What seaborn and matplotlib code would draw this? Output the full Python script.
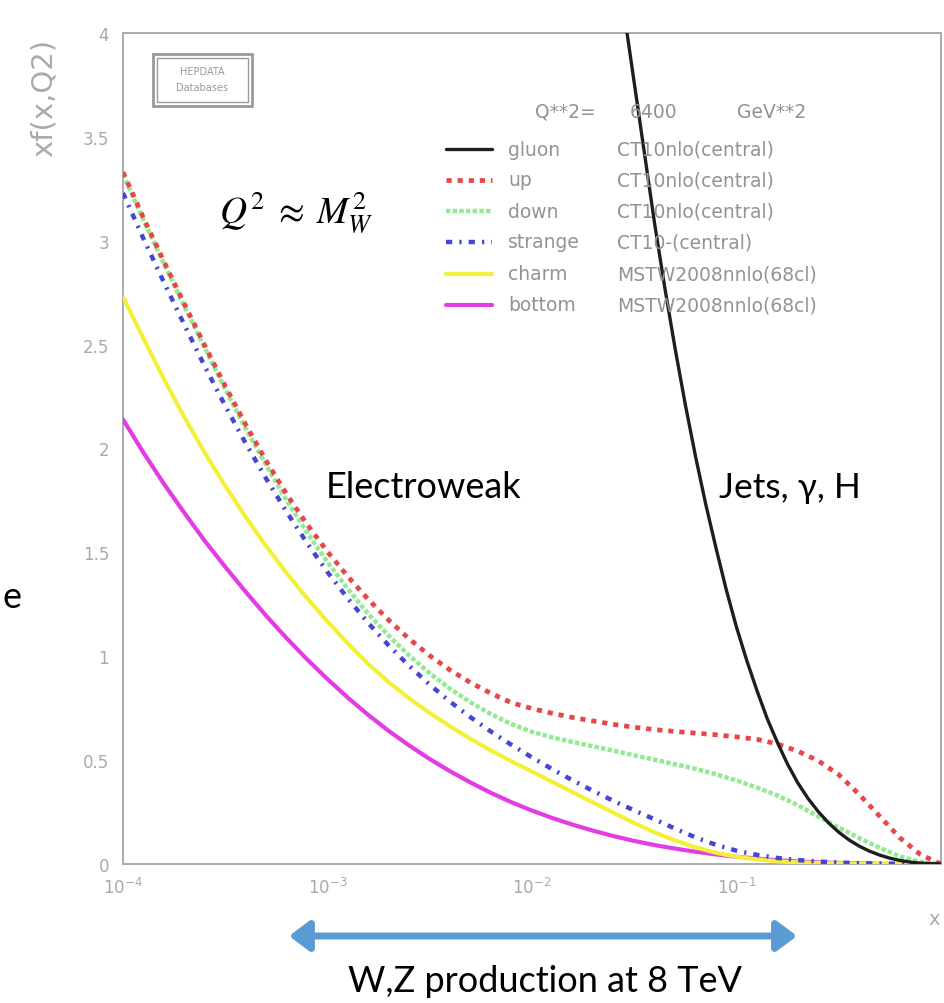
import numpy as np
import pandas as pd
import matplotlib
matplotlib.use("Agg")
import matplotlib.pyplot as plt
import seaborn as sns
from matplotlib.patches import Rectangle, FancyArrowPatch
from matplotlib.lines import Line2D
from matplotlib.ticker import MultipleLocator, LogLocator, FuncFormatter, NullFormatter

# ---- parton distributions x*f(x, Q^2) at Q^2 = 6400 GeV^2 ----
# sampled every 0.1 in log10(x), from x = 1e-4 to x = 1
log10_x = [-4.0, -3.9, -3.8, -3.7, -3.6, -3.5, -3.4, -3.3, -3.2, -3.1,
           -3.0, -2.9, -2.8, -2.7, -2.6, -2.5, -2.4, -2.3, -2.2, -2.1,
           -2.0, -1.9, -1.8, -1.7, -1.6, -1.5, -1.4, -1.3, -1.2, -1.1,
           -1.0, -0.9, -0.8, -0.7, -0.6, -0.5, -0.4, -0.3, -0.2, -0.1, 0.0]
up = [3.33, 3.11, 2.90, 2.695, 2.495, 2.30, 2.115, 1.94, 1.78, 1.635,
      1.503, 1.383, 1.273, 1.173, 1.083, 1.003, 0.933, 0.873, 0.821, 0.776,
      0.748, 0.725, 0.705, 0.688, 0.672, 0.658, 0.647, 0.638, 0.630, 0.622,
      0.612, 0.600, 0.578, 0.543, 0.497, 0.43, 0.335, 0.23, 0.125, 0.045, 0.0]
down = [3.32, 3.10, 2.89, 2.685, 2.485, 2.285, 2.095, 1.92, 1.75, 1.595,
        1.453, 1.323, 1.203, 1.098, 1.003, 0.918, 0.843, 0.778, 0.721, 0.673,
        0.636, 0.609, 0.587, 0.566, 0.545, 0.523, 0.502, 0.48, 0.458, 0.432,
        0.402, 0.368, 0.33, 0.283, 0.228, 0.175, 0.125, 0.078, 0.036, 0.01, 0.0]
strange = [3.23, 3.01, 2.80, 2.595, 2.395, 2.205, 2.025, 1.855, 1.695, 1.545,
           1.405, 1.277, 1.159, 1.051, 0.953, 0.863, 0.781, 0.706, 0.637, 0.573,
           0.513, 0.456, 0.402, 0.351, 0.303, 0.258, 0.215, 0.17, 0.128, 0.092,
           0.064, 0.044, 0.029, 0.019, 0.012, 0.007, 0.004, 0.002, 0.001, 0.0, 0.0]
charm = [2.73, 2.53, 2.335, 2.15, 1.98, 1.82, 1.67, 1.53, 1.40, 1.28,
         1.167, 1.061, 0.962, 0.875, 0.797, 0.727, 0.662, 0.602, 0.546, 0.494,
         0.445, 0.395, 0.345, 0.295, 0.246, 0.197, 0.152, 0.113, 0.08, 0.054,
         0.035, 0.022, 0.013, 0.008, 0.005, 0.003, 0.0015, 0.0005, 0.0, 0.0, 0.0]
bottom = [2.14, 1.98, 1.83, 1.69, 1.555, 1.43, 1.31, 1.195, 1.087, 0.985,
          0.89, 0.80, 0.717, 0.64, 0.57, 0.505, 0.446, 0.392, 0.342, 0.297,
          0.257, 0.221, 0.189, 0.16, 0.134, 0.111, 0.091, 0.074, 0.059, 0.046,
          0.035, 0.026, 0.018, 0.012, 0.008, 0.005, 0.003, 0.001, 0.0, 0.0, 0.0]

# gluon, sampled every 0.05 in log10(x) where it is on scale
gluon_log10_x = [-1.60, -1.55, -1.50, -1.45, -1.40, -1.35, -1.30, -1.25, -1.20,
                 -1.15, -1.10, -1.05, -1.00, -0.95, -0.90, -0.85, -0.80, -0.75,
                 -0.70, -0.65, -0.60, -0.55, -0.50, -0.45, -0.40, -0.35, -0.30,
                 -0.25, -0.20, -0.15, -0.10, -0.05, 0.00]
gluon = [4.45, 4.10, 3.76, 3.42, 3.08, 2.77, 2.48, 2.21, 1.96,
         1.73, 1.52, 1.32, 1.14, 0.98, 0.835, 0.70, 0.585, 0.48,
         0.39, 0.315, 0.252, 0.198, 0.153, 0.116, 0.086, 0.062, 0.043,
         0.028, 0.017, 0.009, 0.004, 0.0015, 0.0]

partons = ["gluon", "up", "down", "strange", "charm", "bottom"]
pdf_sets = ["CT10nlo(central)", "CT10nlo(central)", "CT10nlo(central)",
            "CT10-(central)", "MSTW2008nnlo(68cl)", "MSTW2008nnlo(68cl)"]
y_ticks = [0, 0.5, 1, 1.5, 2, 2.5, 3, 3.5, 4]
x_tick_labels = [r"$10^{-4}$", r"$10^{-3}$", r"$10^{-2}$", r"$10^{-1}$"]

styles = {
    "gluon":   dict(color="#1e1e1e", lw=2.4, ls="-"),
    "up":      dict(color="#e8474a", lw=3.4, ls=(0, (1.1, 1.25))),
    "down":    dict(color="#93ea93", lw=3.2, ls=(0, (1.0, 0.5))),
    "strange": dict(color="#4646d6", lw=3.2, ls=(0, (1.4, 1.6, 0.5, 1.6))),
    "charm":   dict(color="#f4f03a", lw=3.0, ls="-"),
    "bottom":  dict(color="#e43ce4", lw=3.0, ls="-"),
}

sns.set_theme(style="white")
plt.rcParams["font.family"] = ["DejaVu Sans"]

W, H = 944, 1004
fig = plt.figure(figsize=(W / 100, H / 100), dpi=100)


def fpos(px, py):
    return px / W, 1 - py / H


ax = fig.add_axes([123 / W, 1 - 865 / H, 818 / W, 831 / H])
ax.set_xscale("log")

quarks = pd.DataFrame({"x": np.power(10.0, log10_x), "up": up, "down": down,
                       "strange": strange, "charm": charm, "bottom": bottom})
gl = pd.DataFrame({"x": np.power(10.0, gluon_log10_x), "gluon": gluon})

for name in ["bottom", "charm", "strange", "down", "up"]:
    st = styles[name]
    sns.lineplot(data=quarks, x="x", y=name, ax=ax, color=st["color"],
                 linewidth=st["lw"], linestyle=st["ls"], zorder=3)
st = styles["gluon"]
sns.lineplot(data=gl, x="x", y="gluon", ax=ax, color=st["color"],
             linewidth=st["lw"], linestyle=st["ls"], zorder=5)

ax.set_xlim(1e-4, 1)
ax.set_ylim(y_ticks[0], y_ticks[-1])
ax.set_xlabel("")
ax.set_ylabel("")

# ROOT-like frame and ticks
for sp in ax.spines.values():
    sp.set_color("#ababab")
    sp.set_linewidth(1.4)
ax.yaxis.set_major_locator(MultipleLocator(0.5))
ax.yaxis.set_minor_locator(MultipleLocator(0.1))
ax.yaxis.set_major_formatter(FuncFormatter(lambda v, p: f"{v:g}"))
ax.xaxis.set_major_locator(LogLocator(base=10, numticks=10))
ax.xaxis.set_minor_locator(LogLocator(base=10, subs=np.arange(2, 10), numticks=20))
ax.xaxis.set_minor_formatter(NullFormatter())
lbl_map = {-4: x_tick_labels[0], -3: x_tick_labels[1], -2: x_tick_labels[2], -1: x_tick_labels[3]}
ax.xaxis.set_major_formatter(FuncFormatter(lambda v, p: lbl_map.get(int(round(np.log10(v))), "")))
ax.tick_params(axis="both", which="major", direction="in", length=11, width=1.0,
               color="#a0a0a0", labelcolor="#a9a9a9", labelsize=12)
ax.tick_params(axis="both", which="minor", direction="in", length=5.5, width=0.9,
               color="#a8a8a8")
ax.tick_params(axis="y", which="major", pad=10)
ax.tick_params(axis="x", which="major", pad=9)
ax.grid(False)

# axis titles
fig.text(*fpos(44, 98), "xf(x,Q2)", rotation=90, ha="center", va="center",
         fontsize=21, color="#aaaaaa")
fig.text(*fpos(934, 920), "x", ha="center", va="center", fontsize=14, color="#aaaaaa")

# HEPDATA badge
x0, y0 = fpos(153, 107)
x1, y1 = fpos(252, 55)
fig.add_artist(Rectangle((x0, y0), x1 - x0, y1 - y0, transform=fig.transFigure,
                         fill=False, edgecolor="#9a9a9a", lw=2.0, zorder=2))
x0, y0 = fpos(157, 103)
x1, y1 = fpos(248, 59)
fig.add_artist(Rectangle((x0, y0), x1 - x0, y1 - y0, transform=fig.transFigure,
                         fill=False, edgecolor="#9a9a9a", lw=1.0, zorder=2))
fig.text(*fpos(202, 72), "HEPDATA", ha="center", va="center", fontsize=7, color="#9a9a9a")
fig.text(*fpos(202, 88), "Databases", ha="center", va="center", fontsize=7, color="#9a9a9a")

# legend block
leg_color = "#939393"
fig.text(*fpos(535, 112), "Q**2=", ha="left", va="center", fontsize=13.5, color=leg_color)
fig.text(*fpos(630, 112), "6400", ha="left", va="center", fontsize=13.5, color=leg_color)
fig.text(*fpos(737, 112), "GeV**2", ha="left", va="center", fontsize=13.5, color=leg_color)
row_y = [150, 181, 212, 243, 275, 306]
for name, pset, ry in zip(partons, pdf_sets, row_y):
    st = styles[name]
    lx0, ly = fpos(446, ry)
    lx1, _ = fpos(492, ry)
    fig.add_artist(Line2D([lx0, lx1], [ly, ly], transform=fig.transFigure,
                          color=st["color"], lw=st["lw"], ls=st["ls"], zorder=2))
    fig.text(*fpos(508, ry), name, ha="left", va="center", fontsize=13.5,
             color=leg_color, zorder=2)
    fig.text(*fpos(617, ry), pset, ha="left", va="center", fontsize=13.5,
             color=leg_color, zorder=2)

# slide annotations
slide_font = ["Lato", "DejaVu Sans"]
fig.text(*fpos(219, 213), r"$Q^2\;\approx\;M_W^2$", ha="left", va="center",
         fontsize=27, color="black", math_fontfamily="stix")
fig.text(*fpos(326, 488), "Electroweak", ha="left", va="center", fontsize=26,
         color="black", family=slide_font)
fig.text(*fpos(719, 488), "Jets, γ, H", ha="left", va="center", fontsize=25.5,
         color="black", family=slide_font)
fig.text(*fpos(2, 597), "e", ha="left", va="center", fontsize=26,
         color="black", family=slide_font)
fig.text(*fpos(545, 982), "W,Z production at 8 TeV", ha="center", va="center",
         fontsize=26, color="black", family=slide_font)

arrow = FancyArrowPatch(fpos(289, 937), fpos(797, 937), transform=fig.transFigure,
                        arrowstyle="<|-|>,head_length=1.0,head_width=0.75",
                        mutation_scale=12, color="#5b9bd5", lw=5.0,
                        shrinkA=0, shrinkB=0)
fig.add_artist(arrow)

fig.savefig("out.png", dpi=100, facecolor="white")
